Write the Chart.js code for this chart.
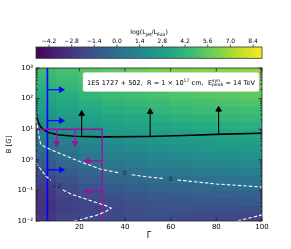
<!DOCTYPE html>
<html>
<head>
<meta charset="utf-8">
<title>Gamma - B map</title>
<script src="https://cdn.jsdelivr.net/npm/chart.js@4.4.1/dist/chart.umd.min.js"></script>
<style>
  html, body { margin: 0; padding: 0; background: #fff; }
  canvas { display: block; }
</style>
</head>
<body>
<canvas id="chart" width="291" height="249"></canvas>
<script>
// map cells: centres in Gamma and in log10(B / G)
const gammaCenters = [5, 15, 25, 35, 45, 55, 65, 75, 85, 95];
const logBCenters = [2.875, 2.625, 2.375, 2.125, 1.875, 1.625, 1.375, 1.125, 0.875, 0.625,
                     0.375, 0.125, -0.125, -0.375, -0.625, -0.875, -1.125, -1.375, -1.625, -1.875];
// log(L_jet / L_Edd), one row per logBCenters entry
const heatRows = [
    [4.5, 4.85, 5.2, 5.5, 5.8, 6.0, 6.2, 6.35, 6.5, 6.6],
    [4.15, 4.5, 4.85, 5.15, 5.45, 5.65, 5.85, 6.0, 6.15, 6.25],
    [3.8, 4.15, 4.5, 4.8, 5.1, 5.3, 5.5, 5.65, 5.8, 5.9],
    [3.4, 3.75, 4.15, 4.45, 4.7, 4.9, 5.1, 5.25, 5.4, 5.5],
    [3.0, 3.35, 3.75, 4.05, 4.3, 4.5, 4.7, 4.85, 5.0, 5.1],
    [2.55, 2.95, 3.35, 3.65, 3.9, 4.1, 4.3, 4.45, 4.6, 4.7],
    [2.1, 2.5, 2.9, 3.2, 3.45, 3.65, 3.85, 4.0, 4.15, 4.25],
    [1.55, 2.05, 2.45, 2.75, 3.0, 3.2, 3.4, 3.55, 3.7, 3.8],
    [1.0, 1.55, 1.95, 2.3, 2.55, 2.75, 2.95, 3.1, 3.25, 3.35],
    [0.45, 1.05, 1.5, 1.85, 2.1, 2.3, 2.5, 2.65, 2.8, 2.9],
    [-0.1, 0.55, 1.0, 1.4, 1.65, 1.85, 2.05, 2.2, 2.35, 2.45],
    [-0.6, 0.05, 0.55, 0.95, 1.2, 1.4, 1.6, 1.75, 1.85, 1.95],
    [-1.1, -0.45, 0.1, 0.5, 0.75, 0.95, 1.1, 1.25, 1.35, 1.45],
    [-1.65, -0.95, -0.4, 0.0, 0.25, 0.45, 0.6, 0.75, 0.85, 0.95],
    [-2.15, -1.4, -0.9, -0.5, -0.25, -0.05, 0.1, 0.25, 0.35, 0.45],
    [-2.5, -1.8, -1.35, -1.0, -0.75, -0.55, -0.4, -0.25, -0.15, -0.05],
    [-2.75, -2.1, -1.7, -1.45, -1.2, -1.0, -0.9, -0.8, -0.7, -0.6],
    [-2.9, -2.35, -2.03, -1.8, -1.5, -1.35, -1.3, -1.3, -1.2, -1.15],
    [-2.9, -2.4, -2.2, -1.95, -1.7, -1.6, -1.6, -1.7, -1.65, -1.65],
    [-2.75, -2.2, -2.0, -1.85, -1.75, -1.75, -1.85, -1.95, -1.95, -2.1]
];
const halfRow = 0.125;

// colour bar
const cbMin = -5.0;
const cbMax = 8.95;
const cbTicks = [-4.2, -2.8, -1.4, 0.0, 1.4, 2.8, 4.2, 5.6, 7.0, 8.4];
const cbTickLabels = ['\u22124.2', '\u22122.8', '\u22121.4', '0.0', '1.4', '2.8', '4.2', '5.6', '7.0', '8.4'];

// axes
const xTicks = [20, 40, 60, 80, 100];
const yTicks = [0.01, 0.1, 1, 10, 100, 1000];
const yTickLabels = ['10\u207b\u00b2', '10\u207b\u00b9', '10\u2070', '10\u00b9', '10\u00b2', '10\u00b3'];

// black lower limit curve
const curveGamma = [1, 1.3, 2, 3.1, 6, 10.4, 17.7, 29.4, 49.8, 65.8, 83.3, 100];
const curveB = [31.6, 24.5, 17, 11.7, 7.9, 6.6, 5.9, 5.6, 5.75, 6.2, 6.9, 7.4];
const blackUpGamma = [21, 51, 81];
const blackUpFrom = [5.9, 5.75, 6.8];
const blackUpTip = [32, 37, 44];

// blue limit
const blueGamma = 6;
const blueArrowB = [195, 19, 0.47];
const blueArrowTip = 12;

// magenta box
const magentaGamma = 30;
const magentaB = 10;
const magentaDownGamma = [10.1, 18.1];
const magentaDownTip = 3.5;
const magentaLeftB = [0.93, 0.091];
const magentaLeftTip = 23.5;

// contours (log10 B), split where the labels sit
const c0aGamma = [1.0, 1.3, 2.0, 3.1, 5, 10, 20, 29, 37];
const c0aLogB = [1.5, 1.23, 0.85, 0.5, 0.42, 0.25, -0.05, -0.3, -0.42];
const c0bGamma = [43, 50, 57];
const c0bLogB = [-0.49, -0.56, -0.61];
const c0cGamma = [63, 80, 100];
const c0cLogB = [-0.66, -0.79, -0.89];
const cm2aGamma = [1, 5.4, 7.5];
const cm2aLogB = [-0.1, -0.54, -0.66];
const cm2bGamma = [12.8, 17.1, 25.9, 32.5, 33.9, 31.7, 27.3, 20, 15.6];
const cm2bLogB = [-0.99, -1.14, -1.36, -1.52, -1.58, -1.69, -1.82, -1.96, -2.03];
const cm2cGamma = [87, 100];
const cm2cLogB = [-2.04, -1.8];
const contourLabels = [
    { text: '0', gamma: 40, logB: -0.46 },
    { text: '0', gamma: 60, logB: -0.63 },
    { text: '\u22122', gamma: 10.1, logB: -0.87 }
];

const viridis = ['#440154', '#482475', '#414487', '#355f8d', '#2a788e', '#21918c',
                 '#22a884', '#42be71', '#7ad151', '#bddf26', '#fde725'];
const FONT = "'DejaVu Sans', sans-serif";

function hexToRgb(h) {
    return [parseInt(h.slice(1, 3), 16), parseInt(h.slice(3, 5), 16), parseInt(h.slice(5, 7), 16)];
};

function cmap(v) {
    let t = (v - cbMin) / (cbMax - cbMin);
    t = Math.max(0, Math.min(1, t));
    let p = t * (viridis.length - 1);
    let i = Math.min(viridis.length - 2, Math.floor(p));
    let f = p - i;
    let a = hexToRgb(viridis[i]), b = hexToRgb(viridis[i + 1]);
    let c = a.map((ch, k) => Math.round(ch + (b[k] - ch) * f));
    return `rgb(${c[0]},${c[1]},${c[2]})`;
};

function lineSet(xs, ys, color, width, dash) {
    return {
        type: 'scatter',
        showLine: true,
        data: xs.map((x, i) => ({ x: x, y: ys[i] })),
        borderColor: color,
        borderWidth: width,
        borderDash: dash || [],
        pointRadius: 0,
        order: 2
    };
};

function contourSet(xs, logs) {
    return lineSet(xs, logs.map(v => Math.pow(10, v)), '#ffffff', 1.1, [3.5, 2]);
};

function arrowSet(x0, y0, x1, y1, color, rot, width) {
    return {
        type: 'scatter',
        showLine: true,
        data: [{ x: x0, y: y0 }, { x: x1, y: y1 }],
        borderColor: color,
        backgroundColor: color,
        borderWidth: width,
        pointRadius: [0, 3.3],
        pointBorderWidth: 0.8,
        pointBorderColor: color,
        pointStyle: 'triangle',
        rotation: rot,
        order: 1
    };
};

let datasets = [];

// heat map cells as floating bars
for (let r = 0; r < logBCenters.length; r++) {
    datasets.push({
        type: 'bar',
        data: gammaCenters.map(g => ({ x: g, y: [Math.pow(10, logBCenters[r] - halfRow), Math.pow(10, logBCenters[r] + halfRow)] })),
        backgroundColor: heatRows[r].map(cmap),
        borderWidth: 0,
        barPercentage: 1,
        categoryPercentage: 1,
        grouped: false,
        inflateAmount: 0.6,
        order: 20
    });
};

datasets.push(contourSet(c0aGamma, c0aLogB));
datasets.push(contourSet(c0bGamma, c0bLogB));
datasets.push(contourSet(c0cGamma, c0cLogB));
datasets.push(contourSet(cm2aGamma, cm2aLogB));
datasets.push(contourSet(cm2bGamma, cm2bLogB));
datasets.push(contourSet(cm2cGamma, cm2cLogB));

// magenta box + arrows
datasets.push(lineSet([1, magentaGamma, magentaGamma], [magentaB, magentaB, 0.01], '#a0109f', 1.4));
for (let x = 0; x < magentaDownGamma.length; x++) {
    datasets.push(arrowSet(magentaDownGamma[x], magentaB, magentaDownGamma[x], magentaDownTip, '#a0109f', 180, 1.2));
};
for (let x = 0; x < magentaLeftB.length; x++) {
    datasets.push(arrowSet(magentaGamma, magentaLeftB[x], magentaLeftTip, magentaLeftB[x], '#a0109f', 270, 1.2));
};

// blue line + arrows
datasets.push(lineSet([blueGamma, blueGamma], [0.01, 1000], '#0000ff', 1.6));
for (let x = 0; x < blueArrowB.length; x++) {
    datasets.push(arrowSet(blueGamma, blueArrowB[x], blueArrowTip, blueArrowB[x], '#0000ff', 90, 1.2));
};

// black curve + arrows
datasets.push(lineSet(curveGamma, curveB, '#000000', 1.6));
for (let x = 0; x < blackUpGamma.length; x++) {
    datasets.push(arrowSet(blackUpGamma[x], blackUpFrom[x], blackUpGamma[x], blackUpTip[x], '#000000', 0, 1.1));
};

function richWidth(ctx, parts, size) {
    let w = 0;
    for (let p of parts) {
        if (p.sup || p.sub) {
            ctx.font = `${size * 0.7}px ${FONT}`;
            let a = p.sup ? ctx.measureText(p.sup).width : 0;
            let b = p.sub ? ctx.measureText(p.sub).width : 0;
            w += Math.max(a, b);
        } else {
            ctx.font = `${size}px ${FONT}`;
            w += ctx.measureText(p.t).width;
        };
    };
    return w;
};

function drawRich(ctx, parts, x, y, size) {
    ctx.textAlign = 'left';
    ctx.textBaseline = 'alphabetic';
    for (let p of parts) {
        if (p.sup || p.sub) {
            ctx.font = `${size * 0.7}px ${FONT}`;
            let a = 0, b = 0;
            if (p.sup) { ctx.fillText(p.sup, x, y - size * 0.45); a = ctx.measureText(p.sup).width; };
            if (p.sub) { ctx.fillText(p.sub, x, y + size * 0.25); b = ctx.measureText(p.sub).width; };
            x += Math.max(a, b);
        } else {
            ctx.font = `${size}px ${FONT}`;
            ctx.fillText(p.t, x, y);
            x += ctx.measureText(p.t).width;
        };
    };
};

const decorations = {
    id: 'decorations',
    afterDatasetsDraw(chart) {
        const ctx = chart.ctx;
        const area = chart.chartArea;
        const sx = chart.scales.x, sy = chart.scales.y;
        ctx.save();

        // contour labels
        ctx.fillStyle = '#1a1a1a';
        ctx.font = `6px ${FONT}`;
        ctx.textAlign = 'center';
        ctx.textBaseline = 'middle';
        for (let l of contourLabels) {
            ctx.fillText(l.text, sx.getPixelForValue(l.gamma), sy.getPixelForValue(Math.pow(10, l.logB)));
        };

        // annotation box
        const boxL = area.left + 47, boxR = area.right - 3, boxT = area.top + 4.5, boxB = area.top + 23.5;
        ctx.fillStyle = '#ffffff';
        ctx.beginPath();
        ctx.roundRect(boxL, boxT, boxR - boxL, boxB - boxT, 2);
        ctx.fill();
        ctx.strokeStyle = '#dddddd';
        ctx.lineWidth = 0.5;
        ctx.stroke();
        const boxParts = [
            { t: '1ES 1727 + 502,  R = 1 \u00d7 10' }, { sup: '17' }, { t: ' cm,  E' },
            { sup: 'syn', sub: 'peak' }, { t: ' = 14 TeV' }
        ];
        ctx.fillStyle = '#000';
        const bw = richWidth(ctx, boxParts, 6.6);
        drawRich(ctx, boxParts, (boxL + boxR) / 2 - bw / 2, boxT + 12, 6.6);

        // frame and inward ticks
        ctx.strokeStyle = '#222';
        ctx.lineWidth = 0.8;
        ctx.strokeRect(area.left, area.top, area.right - area.left, area.bottom - area.top);
        ctx.beginPath();
        for (let v of xTicks) {
            let px = sx.getPixelForValue(v);
            ctx.moveTo(px, area.bottom); ctx.lineTo(px, area.bottom - 3.5);
            ctx.moveTo(px, area.top); ctx.lineTo(px, area.top + 3.5);
        };
        for (let v of yTicks) {
            let py = sy.getPixelForValue(v);
            ctx.moveTo(area.left, py); ctx.lineTo(area.left + 3.5, py);
            ctx.moveTo(area.right, py); ctx.lineTo(area.right - 3.5, py);
        };
        for (let d = 0; d < yTicks.length - 1; d++) {
            for (let k = 2; k < 10; k++) {
                let py = sy.getPixelForValue(yTicks[d] * k);
                ctx.moveTo(area.left, py); ctx.lineTo(area.left + 2, py);
                ctx.moveTo(area.right, py); ctx.lineTo(area.right - 2, py);
            };
        };
        ctx.stroke();

        // colour bar above the axes
        const cbTop = area.top - 21, cbH = 11.3, cbW = area.right - area.left;
        const grad = ctx.createLinearGradient(area.left, 0, area.right, 0);
        for (let i = 0; i < viridis.length; i++) grad.addColorStop(i / (viridis.length - 1), viridis[i]);
        ctx.fillStyle = grad;
        ctx.fillRect(area.left, cbTop, cbW, cbH);
        ctx.strokeStyle = '#333';
        ctx.lineWidth = 0.8;
        ctx.strokeRect(area.left, cbTop, cbW, cbH);
        ctx.fillStyle = '#000';
        ctx.font = `6px ${FONT}`;
        ctx.textAlign = 'center';
        ctx.textBaseline = 'alphabetic';
        ctx.beginPath();
        for (let i = 0; i < cbTicks.length; i++) {
            let px = area.left + (cbTicks[i] - cbMin) / (cbMax - cbMin) * cbW;
            ctx.moveTo(px, cbTop); ctx.lineTo(px, cbTop - 2.5);
            ctx.fillText(cbTickLabels[i], px, cbTop - 4.5);
        };
        ctx.stroke();
        const cbTitle = [{ t: 'log(L' }, { sub: 'jet' }, { t: '/L' }, { sub: 'Edd' }, { t: ')' }];
        const tw = richWidth(ctx, cbTitle, 6.3);
        drawRich(ctx, cbTitle, (area.left + area.right) / 2 - tw / 2, cbTop - 13, 6.3);

        ctx.restore();
    }
};

new Chart(document.getElementById('chart'), {
    type: 'bar',
    data: { datasets: datasets },
    options: {
        responsive: false,
        animation: false,
        devicePixelRatio: 1,
        events: [],
        layout: { padding: { left: 0, right: 29, top: 68, bottom: 0 } },
        plugins: { legend: { display: false }, tooltip: { enabled: false } },
        scales: {
            x: {
                type: 'linear',
                min: 1,
                max: 100,
                offset: false,
                grid: { display: false, offset: false, drawTicks: false },
                border: { display: false },
                afterBuildTicks: s => { s.ticks = xTicks.map(v => ({ value: v })); },
                afterFit: s => { s.height = 28; },
                ticks: { color: '#000', font: { family: FONT, size: 7 }, padding: 2, maxRotation: 0, autoSkip: false },
                title: { display: true, text: '\u0393', color: '#000', font: { family: FONT, size: 8 }, padding: { top: 0, bottom: 8 } }
            },
            y: {
                type: 'logarithmic',
                min: 0.01,
                max: 1000,
                grid: { display: false, drawTicks: false },
                border: { display: false },
                afterBuildTicks: s => { s.ticks = yTicks.map(v => ({ value: v })); },
                afterFit: s => { s.width = 36; },
                ticks: { color: '#000', font: { family: FONT, size: 7 }, padding: 3, autoSkip: false,
                         callback: (v, i) => yTickLabels[i] },
                title: { display: true, text: 'B [G]', color: '#000', font: { family: FONT, size: 7 }, padding: { top: 5, bottom: 0 } }
            }
        }
    },
    plugins: [decorations]
});
</script>
</body>
</html>
